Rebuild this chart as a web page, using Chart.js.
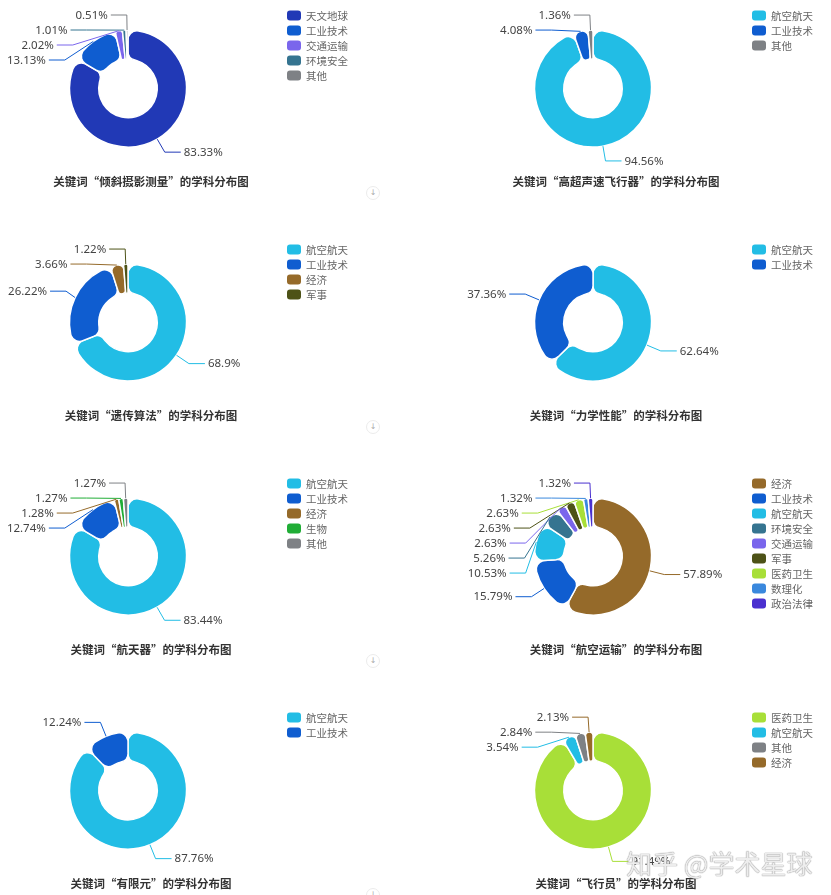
<!DOCTYPE html>
<html>
<head>
<meta charset="utf-8">
<script src="https://cdn.jsdelivr.net/npm/chart.js@4.4.1/dist/chart.umd.min.js"></script>
<style>
  body { margin: 0; background: #fff; width: 831px; height: 895px; overflow: hidden; position: relative; }
  .panel { position: absolute; }
  .btn { position: absolute; width: 12px; height: 12px; border: 1px solid #ececec; border-radius: 50%;
         font: 8px 'DejaVu Sans'; color: #aaa; text-align: center; line-height: 12px; }
  .wm { position: absolute; left: 626px; top: 844px; font: 26px 'Noto Sans CJK SC'; color: rgba(255,255,255,0.85);
        text-shadow: 0 0 1px #8a8a8a, 0 0 1px #8a8a8a; white-space: nowrap; }
</style>
</head>
<body>
<div class="wm">知乎 @学术星球</div>
<script>
// 关键词 (每个图的标题)
const keywords = ['倾斜摄影测量', '高超声速飞行器', '遗传算法', '力学性能', '航天器', '航空运输', '有限元', '飞行员'];

// 学科 + 占比 (%)
const cats1 = ['天文地球', '工业技术', '交通运输', '环境安全', '其他'];
const vals1 = [83.33, 13.13, 2.02, 1.01, 0.51];
const cats2 = ['航空航天', '工业技术', '其他'];
const vals2 = [94.56, 4.08, 1.36];
const cats3 = ['航空航天', '工业技术', '经济', '军事'];
const vals3 = [68.9, 26.22, 3.66, 1.22];
const cats4 = ['航空航天', '工业技术'];
const vals4 = [62.64, 37.36];
const cats5 = ['航空航天', '工业技术', '经济', '生物', '其他'];
const vals5 = [83.44, 12.74, 1.28, 1.27, 1.27];
const cats6 = ['经济', '工业技术', '航空航天', '环境安全', '交通运输', '军事', '医药卫生', '数理化', '政治法律'];
const vals6 = [57.89, 15.79, 10.53, 5.26, 2.63, 2.63, 2.63, 1.32, 1.32];
const cats7 = ['航空航天', '工业技术'];
const vals7 = [87.76, 12.24];
const cats8 = ['医药卫生', '航空航天', '其他', '经济'];
const vals8 = [91.49, 3.54, 2.84, 2.13];

// 颜色按学科
const palette = {
    '天文地球': '#2139b6',
    '工业技术': '#0f5dd0',
    '交通运输': '#7a66ec',
    '环境安全': '#357490',
    '其他': '#7e8185',
    '航空航天': '#22bde5',
    '经济': '#956a2a',
    '军事': '#4d5217',
    '生物': '#20ad36',
    '医药卫生': '#a8df38',
    '数理化': '#3a88dd',
    '政治法律': '#4a30cf'
};

const allCats = [cats1, cats2, cats3, cats4, cats5, cats6, cats7, cats8];
const allVals = [vals1, vals2, vals3, vals4, vals5, vals6, vals7, vals8];

const LEN = 15, LEN_ELL = 10, LEN2 = 16, GAP = 3, LABEL_H = 15;
const labelFont = "11.5px 'Noto Sans', 'Noto Sans CJK SC'";

// echarts-like outside labels with leader lines
const pieLabels = {
    id: 'pieLabels',
    afterDatasetsDraw(chart) {
        const ctx = chart.ctx;
        const meta = chart.getDatasetMeta(0);
        const ds = chart.data.datasets[0];
        const sides = { '-1': [], '1': [] };
        let cx = 0, cy = 0, r = 0;
        meta.data.forEach((arc, i) => {
            const p = arc.getProps(['x', 'y', 'startAngle', 'endAngle', 'outerRadius'], true);
            cx = p.x; cy = p.y; r = p.outerRadius;
            const mid = (p.startAngle + p.endAngle) / 2;
            const c = Math.cos(mid), s = Math.sin(mid);
            const dir = c < 0 ? -1 : 1;
            sides[dir].push({
                i, dir, c, s,
                x0: cx + r * c, y0: cy + r * s,
                dx: (r + LEN) * c,
                y: cy + (r + LEN) * s
            });
        });
        [-1, 1].forEach(dir => {
            const list = sides[dir];
            list.sort((a, b) => a.y - b.y);
            let adjusted = false;
            let last = -Infinity;
            list.forEach(it => {
                if (it.y < last + LABEL_H) { it.y = last + LABEL_H; adjusted = true; }
                last = it.y;
            });
            list.forEach(it => { it.px = cx + it.dx; });
            if (adjusted && list.length > 1) {
                const rA = r + LEN_ELL;
                [list.filter(it => it.y <= cy), list.filter(it => it.y > cy)].forEach(semi => {
                    if (!semi.length) return;
                    let maxDy = -1, rB = rA;
                    semi.forEach(it => {
                        const dy = Math.abs(it.y - cy);
                        if (dy >= maxDy) {
                            maxDy = dy;
                            const dx = Math.abs(it.dx);
                            rB = dx < rA ? Math.sqrt(dy * dy / (1 - dx * dx / rA / rA)) : rA;
                        }
                    });
                    semi.forEach(it => {
                        const dy = Math.abs(it.y - cy);
                        const k = Math.max(0, 1 - dy * dy / (rB * rB));
                        it.px = cx + dir * Math.sqrt(k) * rA;
                    });
                });
            }
            list.forEach(it => {
                const color = ds.backgroundColor[it.i];
                const lx = it.px + dir * LEN2;
                ctx.save();
                ctx.strokeStyle = color;
                ctx.lineWidth = 1;
                ctx.beginPath();
                ctx.moveTo(it.x0, it.y0);
                ctx.lineTo(it.px, it.y);
                ctx.lineTo(lx, it.y);
                ctx.stroke();
                ctx.fillStyle = '#444';
                ctx.font = labelFont;
                ctx.textBaseline = 'middle';
                ctx.textAlign = dir < 0 ? 'right' : 'left';
                ctx.fillText(ds.data[it.i] + '%', lx + dir * GAP, it.y + 0.5);
                ctx.restore();
            });
        });
    },
    afterDraw(chart) {
        const ctx = chart.ctx;
        const ds = chart.data.datasets[0];
        ctx.save();
        // 图例
        chart.data.labels.forEach((name, i) => {
            const y = 15.5 + i * 15;
            ctx.fillStyle = ds.backgroundColor[i];
            ctx.beginPath();
            ctx.roundRect(287, y - 5, 14, 10, 3);
            ctx.fill();
            ctx.fillStyle = '#666';
            ctx.font = "10.5px 'Noto Sans CJK SC'";
            ctx.textBaseline = 'middle';
            ctx.textAlign = 'left';
            ctx.fillText(name, 306, y + 0.5);
        });
        // 标题
        ctx.fillStyle = '#333';
        ctx.font = "bold 11.5px 'Noto Sans CJK SC'";
        ctx.textAlign = 'center';
        ctx.textBaseline = 'middle';
        ctx.fillText('关键词“' + chart.options.keyword + '”的学科分布图', 151, 182);
        ctx.restore();
    }
};

for (let k = 0; k < 8; k++) {
    const row = Math.floor(k / 2), col = k % 2;
    const W = 366;
    const H = row < 3 ? 234 : 895 - 702;
    const div = document.createElement('div');
    div.className = 'panel';
    div.style.left = (col * 465) + 'px';
    div.style.top = (row * 234) + 'px';
    const canvas = document.createElement('canvas');
    canvas.width = W;
    canvas.height = H;
    canvas.style.width = W + 'px';
    canvas.style.height = H + 'px';
    div.appendChild(canvas);
    document.body.insertBefore(div, document.querySelector('.wm'));

    new Chart(canvas.getContext('2d'), {
        type: 'doughnut',
        data: {
            labels: allCats[k],
            datasets: [{
                data: allVals[k],
                backgroundColor: allCats[k].map(c => palette[c]),
                borderColor: '#fff',
                borderWidth: 1.5,
                borderRadius: 9
            }]
        },
        options: {
            keyword: keywords[k],
            responsive: false,
            animation: false,
            events: [],
            radius: 58.5,
            cutout: '50%',
            layout: { padding: { left: 10, right: 10 + W - 256, top: 10, bottom: 10 + H - 177 } },
            plugins: { legend: { display: false }, tooltip: { enabled: false } }
        },
        plugins: [pieLabels]
    });
}

// 右侧的小按钮
for (let row = 0; row < 4; row++) {
    [366, 831].forEach(x => {
        const b = document.createElement('div');
        b.className = 'btn';
        b.style.left = x + 'px';
        b.style.top = (186 + row * 234) + 'px';
        b.textContent = '↓';
        document.body.appendChild(b);
    });
}
</script>
</body>
</html>
